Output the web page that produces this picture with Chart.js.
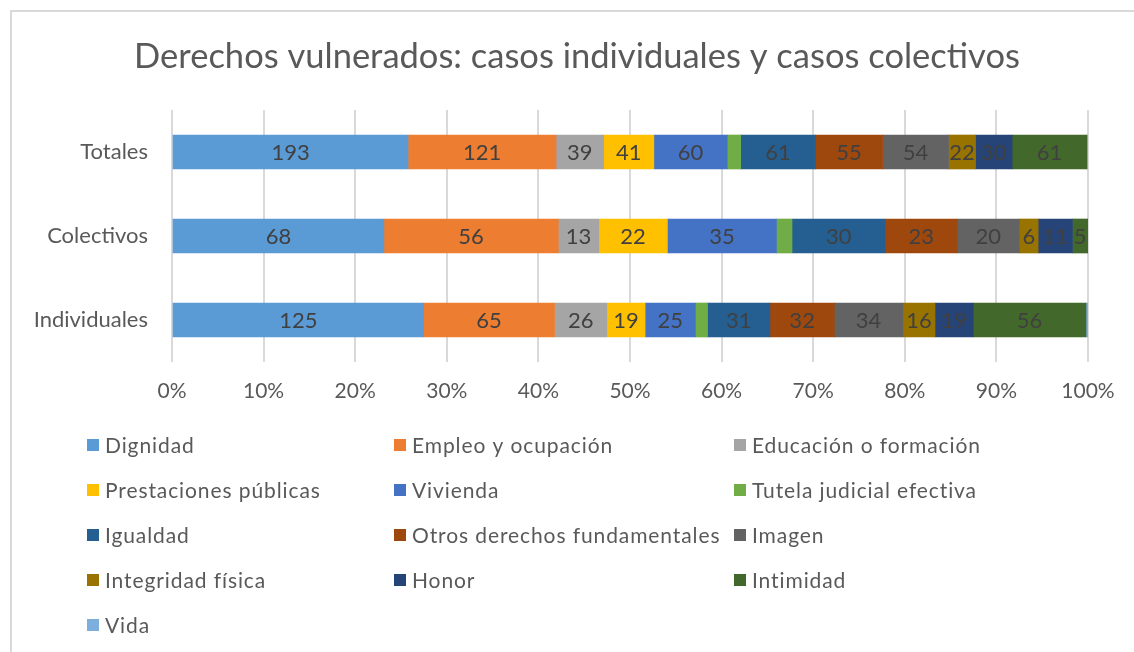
<!DOCTYPE html>
<html>
<head>
<meta charset="utf-8">
<script src="https://cdn.jsdelivr.net/npm/chart.js@4.4.1/dist/chart.umd.min.js"></script>
<style>
  html, body { margin: 0; padding: 0; background: #fff; overflow: hidden; }
  #frame {
    position: absolute; left: 10px; top: 10px;
    width: 1134px; height: 652px;
    border-left: 2px solid #d9d9d9; border-top: 2px solid #d9d9d9;
  }
  #chart { position: absolute; left: -2px; top: -2px; }
</style>
</head>
<body>
<div id="frame"><canvas id="chart" width="1134" height="642"></canvas></div>
<script>
const categories = ['Totales', 'Colectivos', 'Individuales'];
const seriesNames = [
  'Dignidad', 'Empleo y ocupación', 'Educación o formación',
  'Prestaciones públicas', 'Vivienda', 'Tutela judicial efectiva',
  'Igualdad', 'Otros derechos fundamentales', 'Imagen',
  'Integridad física', 'Honor', 'Intimidad', 'Vida'
];
const seriesColors = [
  '#5B9BD5', '#ED7D31', '#A5A5A5', '#FFC000', '#4472C4', '#70AD47',
  '#255E91', '#9E480E', '#636363', '#997300', '#264478', '#43682B', '#7CAFDD'
];
// values per category: [Totales, Colectivos, Individuales]
const dignidad = [193, 68, 125];
const empleo = [121, 56, 65];
const educacion = [39, 13, 26];
const prestaciones = [41, 22, 19];
const vivienda = [60, 35, 25];
const tutela = [11, 5, 6];
const igualdad = [61, 30, 31];
const otros = [55, 23, 32];
const imagen = [54, 20, 34];
const integridad = [22, 6, 16];
const honor = [30, 11, 19];
const intimidad = [61, 5, 56];
const vida = [1, 0, 1];
const tickLabels = ['0%', '10%', '20%', '30%', '40%', '50%', '60%', '70%', '80%', '90%', '100%'];
const chartTitle = 'Derechos vulnerados: casos individuales y casos colectivos';

const allSeries = [dignidad, empleo, educacion, prestaciones, vivienda, tutela,
  igualdad, otros, imagen, integridad, honor, intimidad, vida];
const noLabel = ['Tutela judicial efectiva', 'Vida'];

const totals = categories.map((c, i) => allSeries.reduce((s, arr) => s + arr[i], 0));

const FONT = 'Lato, "Open Sans", sans-serif';

const datasets = allSeries.map((arr, k) => ({
  label: seriesNames[k],
  raw: arr,
  data: arr.map((v, i) => v / totals[i] * 100),
  backgroundColor: seriesColors[k],
  borderWidth: 0,
  barThickness: 34
}));

// title drawn by hand so it centres on the whole frame, not the padded box
const titlePlugin = {
  id: 'titlePlugin',
  afterDraw(chart) {
    const ctx = chart.ctx;
    ctx.save();
    ctx.font = '34.5px ' + FONT;
    ctx.fillStyle = '#595959';
    ctx.textAlign = 'center';
    ctx.textBaseline = 'middle';
    ctx.fillText(chartTitle, 567, 47);
    ctx.restore();
  }
};

const barLabels = {
  id: 'barLabels',
  afterDatasetsDraw(chart) {
    const ctx = chart.ctx;
    ctx.save();
    ctx.font = '22px ' + FONT;
    ctx.fillStyle = '#404040';
    ctx.textAlign = 'center';
    ctx.textBaseline = 'middle';
    chart.data.datasets.forEach((ds, k) => {
      if (noLabel.includes(ds.label)) return;
      chart.getDatasetMeta(k).data.forEach((el, i) => {
        const v = ds.raw[i];
        if (!v) return;
        const p = el.getCenterPoint();
        ctx.fillText(String(v), p.x, p.y + 1);
      });
    });
    ctx.restore();
  }
};

const gridLegend = {
  id: 'gridLegend',
  afterDraw(chart) {
    const ctx = chart.ctx;
    const colX = [77, 384, 724];
    const rowY = [435, 480, 525, 570, 615];
    ctx.save();
    ctx.font = '21px ' + FONT;
    ctx.letterSpacing = '0.9px';
    ctx.textBaseline = 'middle';
    ctx.textAlign = 'left';
    chart.data.datasets.forEach((ds, k) => {
      const x = colX[k % 3];
      const y = rowY[Math.floor(k / 3)];
      ctx.fillStyle = ds.backgroundColor;
      ctx.fillRect(x, y - 6, 12, 12);
      ctx.fillStyle = '#595959';
      ctx.fillText(ds.label, x + 18, y + 1);
    });
    ctx.restore();
  }
};

new Chart(document.getElementById('chart'), {
  type: 'bar',
  data: { labels: categories, datasets: datasets },
  options: {
    indexAxis: 'y',
    responsive: false,
    animation: false,
    layout: { padding: { left: 0, right: 56, top: 100, bottom: 230 } },
    plugins: {
      legend: { display: false },
      tooltip: { enabled: false },
      title: { display: false }
    },
    scales: {
      x: {
        stacked: true,
        min: 0,
        max: 100,
        ticks: {
          stepSize: 10,
          color: '#595959',
          font: { family: FONT, size: 21 },
          padding: 17,
          callback: (v, i) => tickLabels[i]
        },
        grid: { color: '#d9d9d9', lineWidth: 2, drawTicks: false },
        border: { display: false },
        afterFit(scale) { scale.height = 60; }
      },
      y: {
        stacked: true,
        ticks: {
          color: '#595959',
          font: { family: FONT, size: 22 },
          padding: 24
        },
        grid: { display: false, drawTicks: false },
        border: { display: false },
        afterFit(scale) { scale.width = 162; }
      }
    }
  },
  plugins: [titlePlugin, barLabels, gridLegend]
});
</script>
</body>
</html>
